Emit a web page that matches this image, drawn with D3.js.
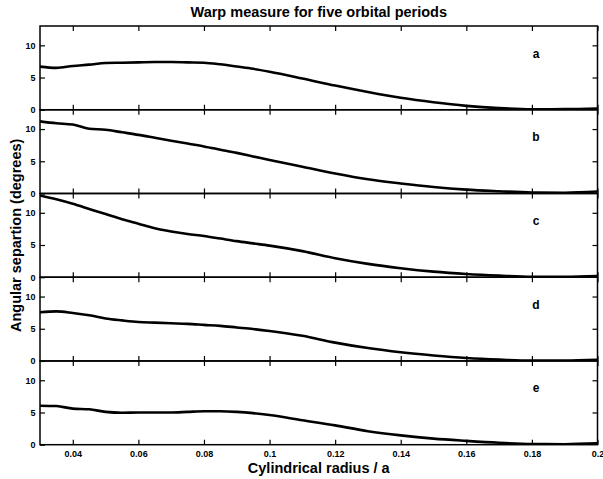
<!DOCTYPE html>
<html><head><meta charset="utf-8">
<script src="https://cdn.jsdelivr.net/npm/d3@7"></script>
<style>
body{margin:0;background:#fff}
text{font-family:"Liberation Sans",Arial,sans-serif;font-weight:bold;fill:#000}
</style>
</head><body><script>
width = 603;
height = 479;

// radius samples shared by all five periods
radius = [0.03, 0.035, 0.04, 0.045, 0.05, 0.055, 0.06, 0.065, 0.07, 0.075, 0.08, 0.085, 0.09, 0.095, 0.1,
          0.11, 0.12, 0.13, 0.14, 0.15, 0.16, 0.17, 0.18, 0.19, 0.2];
panel_names = ["a", "b", "c", "d", "e"];
warp_a = [6.7, 6.5, 6.8, 7.0, 7.25, 7.3, 7.35, 7.4, 7.4, 7.35, 7.3, 7.05, 6.7, 6.35, 5.9,
          4.85, 3.75, 2.75, 1.85, 1.15, 0.6, 0.25, 0.08, 0.1, 0.2];
warp_b = [11.2, 10.9, 10.7, 10.05, 9.9, 9.5, 9.1, 8.65, 8.2, 7.75, 7.3, 6.8, 6.3, 5.75, 5.2,
          4.15, 3.1, 2.2, 1.55, 1.0, 0.6, 0.35, 0.15, 0.12, 0.3];
warp_c = [12.7, 12.1, 11.4, 10.6, 9.8, 9.0, 8.3, 7.6, 7.1, 6.7, 6.4, 6.0, 5.6, 5.25, 4.9,
          4.05, 2.95, 2.07, 1.4, 0.87, 0.5, 0.25, 0.08, 0.08, 0.2];
warp_d = [7.55, 7.7, 7.45, 7.1, 6.6, 6.3, 6.05, 5.95, 5.85, 5.75, 5.6, 5.45, 5.2, 4.95, 4.65,
          3.9, 2.85, 2.0, 1.35, 0.85, 0.45, 0.2, 0.06, 0.08, 0.2];
warp_e = [6.05, 6.0, 5.6, 5.5, 5.1, 4.97, 5.0, 5.0, 5.0, 5.1, 5.2, 5.2, 5.1, 4.9, 4.6,
          3.8, 3.0, 2.1, 1.45, 0.95, 0.6, 0.3, 0.1, 0.08, 0.2];
series = [warp_a, warp_b, warp_c, warp_d, warp_e];
x_ticks = [0.04, 0.06, 0.08, 0.1, 0.12, 0.14, 0.16, 0.18, 0.2];
y_ticks = [0, 5, 10];

margin = {"top": 26, "right": 5.5, "bottom": 34.3, "left": 40};
plot_w = width - margin.left - margin.right;
panel_h = (height - margin.top - margin.bottom) / series.length;

svg = d3.select("body").append("svg")
  .attr("width", width)
  .attr("height", height);

x = d3.scaleLinear().domain([0.03, 0.2]).range([0, plot_w]);
y = d3.scaleLinear().domain([0, 13]).range([panel_h, 0]);

line = d3.line()
  .x(function(d, i) { return x(radius[i]); })
  .y(function(d) { return y(d); })
  .curve(d3.curveMonotoneX);

svg.append("clipPath").attr("id", "clip")
  .append("rect").attr("width", plot_w).attr("height", panel_h);

series.forEach(function(vals, k) {
  var g = svg.append("g")
    .attr("transform", "translate(" + margin.left + "," + (margin.top + k * panel_h) + ")");
  var last = k == series.length - 1;

  // ticks on all four sides point inward, labels only left and on the last panel
  g.append("g").attr("transform", "translate(0," + panel_h + ")")
    .call(d3.axisBottom(x).tickValues(x_ticks).tickSize(-5).tickPadding(5.5)
      .tickFormat(last ? d3.format("") : ""));
  g.append("g")
    .call(d3.axisTop(x).tickValues(x_ticks).tickSize(-5).tickFormat(""));
  g.append("g")
    .call(d3.axisLeft(y).tickValues(y_ticks).tickSize(-5).tickPadding(4.5));
  g.append("g").attr("transform", "translate(" + plot_w + ",0)")
    .call(d3.axisRight(y).tickValues([5, 10]).tickSize(-5).tickFormat(""));
  g.selectAll(".domain").remove();
  g.selectAll(".tick line").attr("stroke", "#000").attr("stroke-width", 1.2);
  g.selectAll(".tick text").style("font-size", "9px");

  g.append("rect")
    .attr("width", plot_w).attr("height", panel_h)
    .attr("fill", "none").attr("stroke", "#000").attr("stroke-width", 1.5);

  g.append("path")
    .datum(vals)
    .attr("clip-path", "url(#clip)")
    .attr("fill", "none")
    .attr("stroke", "#000")
    .attr("stroke-width", 2.6)
    .attr("d", line);

  g.append("text")
    .attr("x", 536 - margin.left).attr("y", 31.5)
    .attr("text-anchor", "middle")
    .style("font-size", "12px")
    .text(panel_names[k]);
});

svg.append("text")
  .attr("x", margin.left + plot_w / 2).attr("y", 17)
  .attr("text-anchor", "middle")
  .style("font-size", "14.5px")
  .text("Warp measure for five orbital periods");

svg.append("text")
  .attr("x", margin.left + plot_w / 2).attr("y", 473)
  .attr("text-anchor", "middle")
  .style("font-size", "14.5px")
  .text("Cylindrical radius / a");

svg.append("text")
  .attr("transform", "translate(21," + (margin.top + 5 * panel_h / 2) + ") rotate(-90)")
  .attr("text-anchor", "middle")
  .style("font-size", "14.5px")
  .text("Angular separtion (degrees)");
</script></body></html>
